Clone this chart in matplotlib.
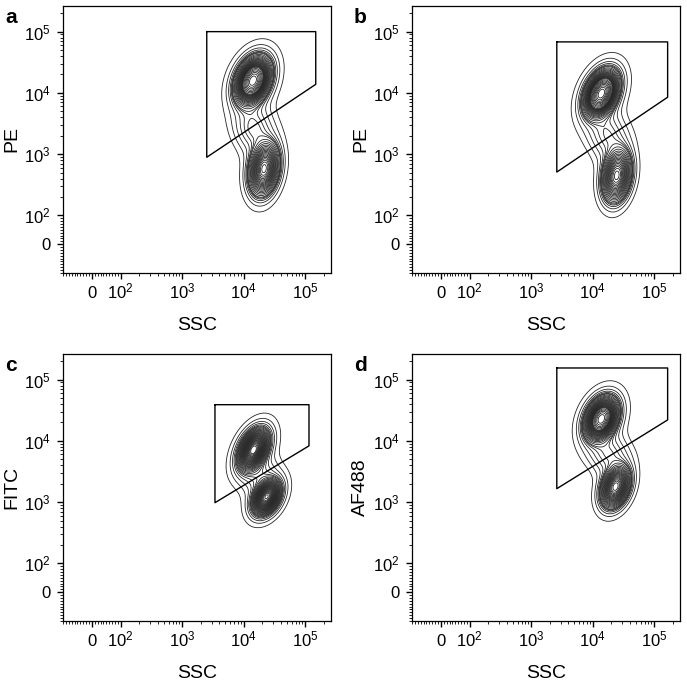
import numpy as np
import matplotlib
matplotlib.use('Agg')
import matplotlib.pyplot as plt

plt.rcParams['font.family'] = ['Liberation Sans', 'DejaVu Sans']
plt.rcParams['mathtext.fontset'] = 'custom'
plt.rcParams['mathtext.rm'] = 'Liberation Sans'
plt.rcParams['mathtext.it'] = 'Liberation Sans:italic'
plt.rcParams['mathtext.bf'] = 'Liberation Sans:bold'

letters = ['a', 'b', 'c', 'd']
ylabels = ['PE', 'PE', 'FITC', 'AF488']
xlabel = 'SSC'

# gate polygons (SSC, fluorescence), data units
gate_x = [[2500, 148000, 148000, 2500],
          [2600, 165000, 165000, 2600],
          [3400, 115000, 115000, 3400],
          [2600, 165000, 165000, 2600]]
gate_y = [[100000, 100000, 13800, 890],
          [68000, 68000, 8500, 510],
          [39000, 39000, 8300, 980],
          [155000, 155000, 22000, 1660]]

# populations per panel: log10 centres, spreads, tilt and share
hi_center = [(4.15, 4.20), (4.14, 3.99), (4.16, 3.86), (4.14, 4.36)]
lo_center = [(4.33, 2.76), (4.39, 2.65), (4.37, 3.08), (4.37, 3.25)]
mid_center = [(4.15, 3.42), (4.24, 3.30), (4.25, 3.45), (4.26, 3.78)]
hi_sd = [(0.20, 0.27), (0.19, 0.26), (0.185, 0.25), (0.19, 0.25)]
lo_sd = [(0.175, 0.31), (0.17, 0.31), (0.17, 0.21), (0.17, 0.245)]
mid_sd = [(0.21, 0.24), (0.21, 0.24), (0.2, 0.18), (0.21, 0.2)]
hi_rho = [0.3, 0.35, 0.4, 0.3]
lo_rho = [0.2, 0.2, 0.35, 0.3]
hi_frac = [0.56, 0.58, 0.53, 0.57]
mid_frac = [0.07, 0.07, 0.06, 0.07]
halo_frac = 0.3

major_ticks = [0, 1e2, 1e3, 1e4, 1e5]
major_labels = ['0', '$10^2$', '$10^3$', '$10^4$', '$10^5$']
minor_ticks = ([-v for v in range(10, 101, 10)] + list(range(10, 100, 10)) +
               [m * 10 ** k for k in range(2, 5) for m in range(2, 10)] + [2e5])
axis_lo, axis_hi = -100, 262144

positions = [(63, 6), (412, 6), (63, 354), (412, 354)]
W, H = 687, 685
aw, ah = 268, 267


def blob(u, v, c, s, rho, k=1.0, p=1.0):
    zu = (u - c[0]) / (s[0] * k)
    zv = (v - c[1]) / (s[1] * k)
    q = (zu ** 2 - 2 * rho * zu * zv + zv ** 2) / (1 - rho ** 2)
    d = np.exp(-0.5 * q ** p)
    return d / d.sum()


def population(u, v, c, s, rho):
    core = blob(u, v, c, s, rho, 0.85, 1.25)
    halo = blob(u, v, c, s, rho, 1.3)
    return (1 - halo_frac) * core + halo_frac * halo


def prob_levels(d, steps):
    flat = np.sort(d.ravel())[::-1]
    cum = np.cumsum(flat)
    cum /= cum[-1]
    lv = [flat[np.searchsorted(cum, p)] for p in steps]
    return sorted(set(lv))


fig = plt.figure(figsize=(W / 100, H / 100), dpi=100)

u = np.linspace(2.3, 5.6, 400)
v = np.linspace(1.2, 5.8, 500)
U, V = np.meshgrid(u, v)
steps = np.arange(0.03, 0.975, 0.03)

for i in range(4):
    x0, y0 = positions[i]
    ax = fig.add_axes([x0 / W, 1 - (y0 + ah) / H, aw / W, ah / H])
    ax.set_xscale('symlog', linthresh=100, linscale=0.423, base=10)
    ax.set_yscale('symlog', linthresh=100, linscale=0.423, base=10)
    ax.set_xlim(axis_lo, axis_hi)
    ax.set_ylim(axis_lo, axis_hi)

    lo_frac = 1 - hi_frac[i] - mid_frac[i]
    D = (hi_frac[i] * population(U, V, hi_center[i], hi_sd[i], hi_rho[i]) +
         lo_frac * population(U, V, lo_center[i], lo_sd[i], lo_rho[i]) +
         mid_frac[i] * blob(U, V, mid_center[i], mid_sd[i], 0.0))
    ax.contour(10 ** U, 10 ** V, D, levels=prob_levels(D, steps),
               colors='#262626', linewidths=0.6)

    gx = gate_x[i] + [gate_x[i][0]]
    gy = gate_y[i] + [gate_y[i][0]]
    ax.plot(gx, gy, color='black', lw=1.0)

    ax.set_xticks(major_ticks)
    ax.set_xticklabels(major_labels, va='baseline')
    ax.set_yticks(major_ticks)
    ax.set_yticklabels(major_labels)
    ax.set_xticks(minor_ticks, minor=True)
    ax.set_yticks(minor_ticks, minor=True)
    ax.tick_params(which='major', direction='out', length=4, width=1, labelsize=12)
    ax.tick_params(axis='x', which='major', pad=14)
    ax.tick_params(axis='y', which='major', pad=5)
    ax.tick_params(which='minor', direction='out', length=2, width=0.6)
    for sp in ax.spines.values():
        sp.set_linewidth(0.9)

    ax.set_xlabel(xlabel, fontsize=14)
    ax.xaxis.set_label_coords(0.5, -0.165)
    ax.set_ylabel(ylabels[i], fontsize=14)
    ax.yaxis.set_label_coords(-0.16, 0.5)

    fig.text((x0 - 58) / W, 1 - (y0 + 2) / H, letters[i], fontsize=15,
             fontweight='bold', ha='left', va='top')

fig.savefig('out.png', dpi=100)
